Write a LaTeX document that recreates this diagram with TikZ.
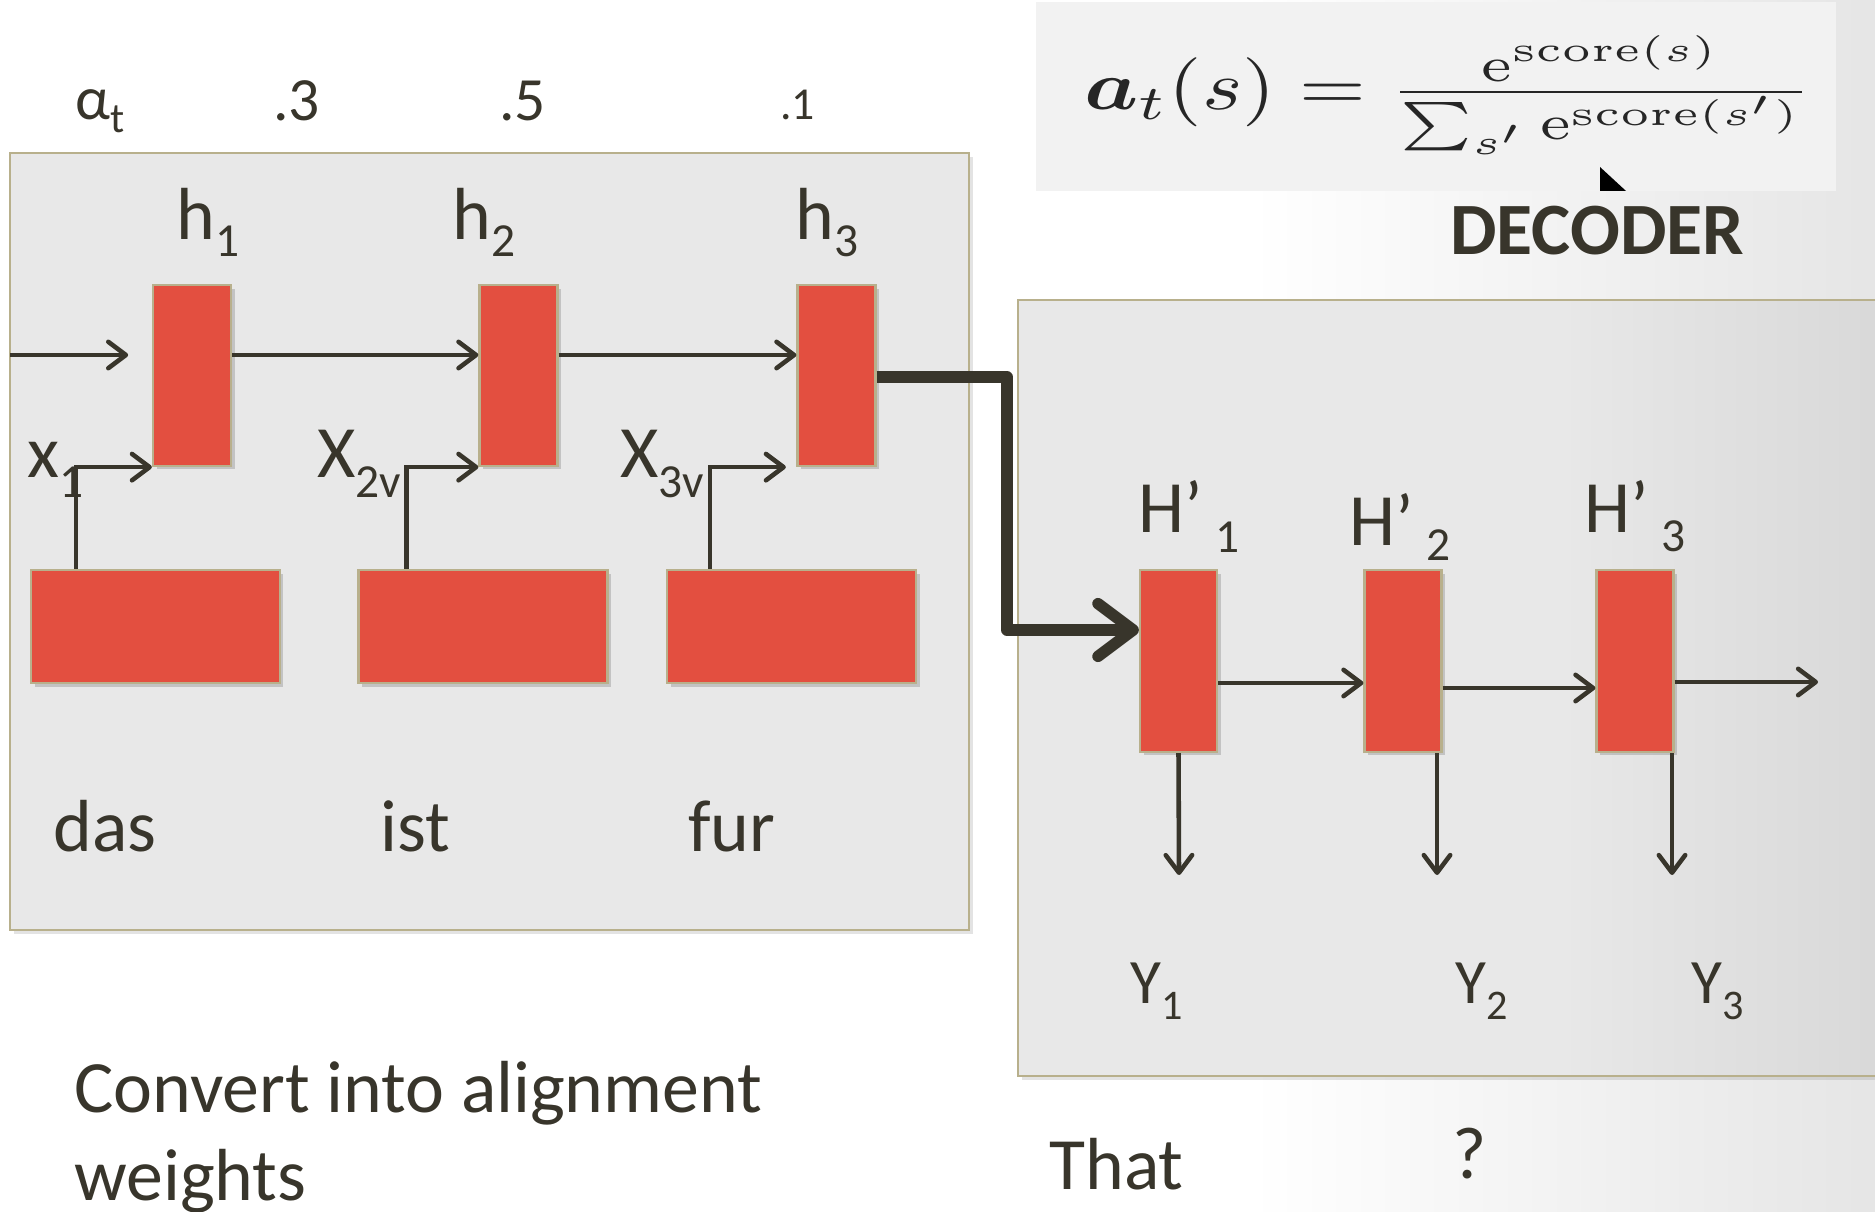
\documentclass[tikz,border=0pt]{standalone}
\usepackage[no-math]{fontspec}
\setmainfont{Carlito}
\usepackage{amsmath}
\usepackage{graphicx}
\usetikzlibrary{arrows.meta,calc,shadows}
\definecolor{ink}{HTML}{38352B}
\definecolor{cellred}{HTML}{E34F40}
\definecolor{rim}{HTML}{B8B08C}
\definecolor{panel}{HTML}{E8E8E8}
\newcommand\sbx[3]{\raisebox{-#1}{\fontsize{#2}{#2}\selectfont #3}}
\begin{document}
\begin{tikzpicture}[x=0.02cm,y=-0.02cm,
  frame/.style={draw=rim, line width=1.3pt, inner sep=0pt, drop shadow={shadow xshift=2.5pt,shadow yshift=-2.5pt,opacity=0.22}},
  cell/.style={draw=rim, line width=1.3pt, fill=cellred, inner sep=0pt, drop shadow={shadow xshift=2pt,shadow yshift=-2pt,opacity=0.35}},
  arr/.style={draw=ink, line width=2.6pt, -{Straight Barb[length=10pt,width=15pt,round]}},
  bigarr/.style={draw=ink, line width=6.5pt, line join=round, -{Straight Barb[length=20pt,width=30pt,round]}},
  lbl/.style={anchor=base west, inner sep=0pt, text=ink},
  big/.style={font=\fontsize{42}{50}\selectfont},
]
\useasboundingbox (0,0) rectangle (1875,1212);
\clip (0,0) rectangle (1875,1212);
\fill[white] (0,0) rectangle (1875,1212);
\shade[left color=white, right color=black!10] (1250,0) rectangle (1875,1212);

% formula panel
\fill[black!5] (1036,2) rectangle (1836,191);
\node[inner sep=0pt, text=black!85] (formula) at (1448,95)
  {\resizebox*{414pt}{68pt}{$\boldsymbol{a}_t(s) = \frac{\mathrm{e}^{\mathrm{score}(s)}}{\sum_{s'}\mathrm{e}^{\mathrm{score}(s')}}$}};
\fill[black] (1600,167) -- (1600,191) -- (1626,191) -- cycle;

% frames
\node[frame, fill=panel, minimum width=19.18cm, minimum height=15.54cm] (enc) at (489.5,541.5) {};
\node[frame, fill=panel, minimum width=17.4cm, minimum height=15.52cm] (dec) at (1453,688) {};
\shade[left color=panel, right color=black!15] (1560,301.3) rectangle (1875,1074.7);

% encoder cells
\node[cell, minimum width=1.56cm, minimum height=3.62cm] (h1) at (192,375.5) {};
\node[cell, minimum width=1.56cm, minimum height=3.62cm] (h2) at (518.5,375.5) {};
\node[cell, minimum width=1.56cm, minimum height=3.62cm] (h3) at (836.5,375.5) {};
\node[cell, minimum width=4.98cm, minimum height=2.26cm] (b1) at (155.5,626.5) {};
\node[cell, minimum width=4.98cm, minimum height=2.26cm] (b2) at (483,626.5) {};
\node[cell, minimum width=4.98cm, minimum height=2.26cm] (b3) at (791.5,626.5) {};

% decoder cells
\node[cell, minimum width=1.54cm, minimum height=3.64cm] (d1) at (1178.5,661) {};
\node[cell, minimum width=1.54cm, minimum height=3.64cm] (d2) at (1403,661) {};
\node[cell, minimum width=1.54cm, minimum height=3.64cm] (d3) at (1635,661) {};

% encoder connectors
\coordinate (ein) at (10,355);
\draw[arr, shorten >=13.5pt] (ein) -- (ein -| h1.west);
\draw[arr] (h1.east |- ein) -- (h2.west |- ein);
\draw[arr] (h2.east |- ein) -- (h3.west |- ein);
\draw[arr] ($(b1.north west)+(46,0)$) |- (h1.south west);
\draw[arr] ($(b2.north west)+(49,0)$) |- (h2.south west);
\draw[arr, shorten >=6pt] ($(b3.north west)+(44,0)$) |- (h3.south west);

% bridge
\coordinate (bend) at (1007,377);
\draw[bigarr] (h3.east |- bend) -- (bend) |- ($(d1.west)+(0,-31)$);

% decoder connectors
\coordinate (dout) at (1818,682);
\coordinate (d1dn) at (1179,875);
\coordinate (d2dn) at (1437,875);
\coordinate (d3dn) at (1672,875);
\draw[arr] ($(d1.east)+(0,22)$) -- ($(d2.west)+(0,22)$);
\draw[arr] ($(d2.east)+(0,27)$) -- ($(d3.west)+(0,27)$);
\draw[arr] ($(d3.east)+(0,21)$) -- (dout);
\draw[arr] (d1.south) -- (d1dn);
\draw[arr] (d2.south -| d2dn) -- (d2dn);
\draw[arr] (d3.south -| d3dn) -- (d3dn);

% top weights
\node[lbl, font=\fontsize{35}{40}\selectfont] (alpha) at (75,120) {α\sbx{7pt}{24pt}{t}};
\node[lbl, font=\fontsize{35}{40}\selectfont] (w1) at (273,121) {.3};
\node[lbl, font=\fontsize{35}{40}\selectfont] (w2) at (499,121) {.5};
\node[lbl, font=\fontsize{26}{30}\selectfont] (w3) at (780,120) {.1};

% encoder labels
\node[lbl, big] (lh1) at (176,240) {h\sbx{9.5pt}{27pt}{1}};
\node[lbl, big] (lh2) at (452,240) {h\sbx{9.5pt}{27pt}{2}};
\node[lbl, big] (lh3) at (795,240) {h\sbx{9.5pt}{27pt}{3}};
\node[lbl, big] (lx1) at (27,478) {x\sbx{11pt}{27pt}{1}};
\node[lbl, big] (lx2) at (317,478) {X\sbx{11pt}{27pt}{2v}};
\node[lbl, big] (lx3) at (620,478) {X\sbx{11pt}{27pt}{3v}};
\node[lbl, big] (das) at (53,851) {das};
\node[lbl, big] (ist) at (380,851) {ist};
\node[lbl, big] (fur) at (688,851) {fur};

% decoder labels
\node[lbl, font=\bfseries\fontsize{42}{48}\selectfont] (decl) at (1450,255) {DECODER};
\node[lbl, big] (lH1) at (1138,533) {H’\,\sbx{11pt}{27pt}{1}};
\node[lbl, big] (lH2) at (1349,545) {H’\,\sbx{9pt}{27pt}{2}};
\node[lbl, big] (lH3) at (1584,533) {H’\,\sbx{10.5pt}{27pt}{3}};
\node[lbl, font=\fontsize{36}{40}\selectfont] (y1) at (1130,1003) {Y\sbx{9.5pt}{24pt}{1}};
\node[lbl, font=\fontsize{36}{40}\selectfont] (y2) at (1455,1003) {Y\sbx{9.5pt}{24pt}{2}};
\node[lbl, font=\fontsize{36}{40}\selectfont] (y3) at (1691,1003) {Y\sbx{9.5pt}{24pt}{3}};

% bottom texts
\node[lbl, big] (conv1) at (74,1112) {Convert into alignment};
\node[lbl, big] (conv2) at (74,1200) {weights};
\node[lbl, big] (that) at (1049,1189) {That};
\node[lbl, big] (qm) at (1452,1178) {?};
\end{tikzpicture}
\end{document}
